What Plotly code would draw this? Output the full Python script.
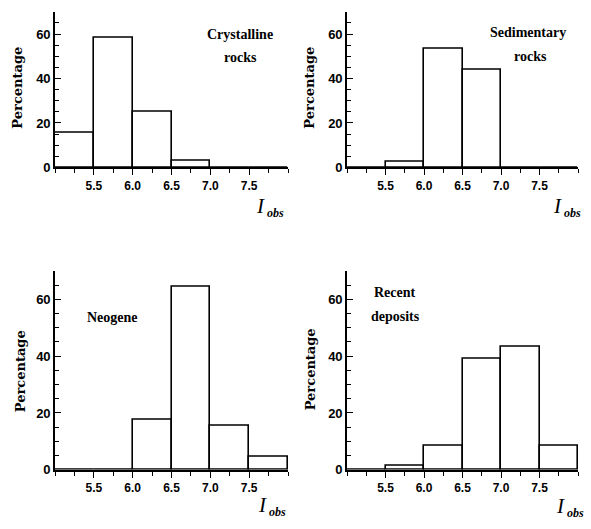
import plotly.graph_objects as go

# Data
bin_centers = [5.25, 5.75, 6.25, 6.75, 7.25, 7.75]
tick_vals = [5.5, 6.0, 6.5, 7.0, 7.5]
tick_text = ["5.5", "6.0", "6.5", "7.0", "7.5"]
y_ticks = [0, 20, 40, 60]

crystalline = [15.5, 58.2, 25.0, 3.2, 0.0, 0.0]
sedimentary = [0.0, 2.7, 53.2, 43.7, 0.0, 0.0]
neogene = [0.0, 0.0, 17.4, 64.5, 15.3, 4.4]
recent = [0.0, 1.5, 8.5, 39.1, 43.1, 8.5]

panels = [
    (crystalline, ["Crystalline", "rocks"]),
    (sedimentary, ["Sedimentary", "rocks"]),
    (neogene, ["Neogene"]),
    (recent, ["Recent", "deposits"]),
]

W, H = 591, 529
def px_x(p): return p / W
def px_y(p): return 1 - p / H

x_domains = [(55, 288), (347, 578), (55, 288), (347, 578)]
y_domains = [(12, 170), (12, 170), (275, 477), (275, 477)]

fig = go.Figure()
layout = dict(
    width=W, height=H, margin=dict(l=0, r=0, t=0, b=0),
    paper_bgcolor="white", plot_bgcolor="white", showlegend=False,
    bargap=0,
)

tick_font = dict(family="Liberation Sans", size=12, color="black", weight="bold")
ytick_font = dict(family="Liberation Sans", size=13, color="black", weight="bold")

annotations = []
for i, (vals, label) in enumerate(panels):
    n = i + 1
    xa = "x" if n == 1 else f"x{n}"
    ya = "y" if n == 1 else f"y{n}"
    fig.add_trace(go.Bar(
        x=bin_centers, y=vals, width=0.5, xaxis=xa, yaxis=ya,
        marker=dict(color="white", line=dict(color="black", width=1.6)),
        hoverinfo="skip",
    ))
    xd = x_domains[i]
    yd = y_domains[i]
    layout[f"xaxis{'' if n == 1 else n}"] = dict(
        domain=[px_x(xd[0]), px_x(xd[1])], anchor=ya,
        range=[5.0, 8.0], showgrid=False, zeroline=False,
        showline=True, linecolor="black", linewidth=1.6,
        tickvals=tick_vals, ticktext=tick_text, ticks="outside", ticklen=6,
        tickwidth=1.2, tickcolor="black", tickfont=tick_font,
        minor=dict(tick0=5.0, dtick=0.25, ticks="outside", ticklen=4,
                   tickwidth=1, tickcolor="black"),
    )
    layout[f"yaxis{'' if n == 1 else n}"] = dict(
        domain=[px_y(yd[1]), px_y(yd[0])], anchor=xa,
        range=[0, 70], showgrid=False, zeroline=False,
        showline=True, linecolor="black", linewidth=1.6,
        tickvals=y_ticks, ticks="inside", ticklen=6, tickwidth=1.2,
        tickcolor="black", tickfont=ytick_font,
        minor=dict(tick0=0, dtick=5, ticks="inside", ticklen=4,
                   tickwidth=1, tickcolor="black"),
    )

lab_font = dict(family="Liberation Serif", size=14, color="black", weight="bold")
# Panel labels
label_pos = [
    [(240, 35), (240, 58)],
    [(528, 33), (530, 57)],
    [(112, 322)],
    [(395, 297), (395, 321)],
]
for (vals, label), poss in zip(panels, label_pos):
    for t, (x, y) in zip(label, poss):
        annotations.append(dict(text=t, x=px_x(x), y=px_y(y), xref="paper",
                                yref="paper", showarrow=False, font=lab_font,
                                xanchor="center", yanchor="middle"))

# y titles
for (x, y) in [(18, 89), (310, 89), (20, 377), (310, 375)]:
    annotations.append(dict(text="Percentage", x=px_x(x), y=px_y(y),
                            xref="paper", yref="paper", showarrow=False,
                            textangle=-90,
                            font=dict(family="DejaVu Serif", size=13,
                                      color="black", weight="bold"),
                            xanchor="center", yanchor="middle"))

# x titles
for (x, y) in [(270, 210), (567, 210), (272, 514), (570, 515)]:
    annotations.append(dict(
        text="<i>I</i><sub><span style='font-size:12px'><b><i> obs</i></b></span></sub>",
        x=px_x(x), y=px_y(y),
        xref="paper", yref="paper", showarrow=False,
        font=dict(family="Liberation Serif", size=21, color="black"),
        xanchor="center", yanchor="middle"))

layout["annotations"] = annotations
fig.update_layout(**layout)
fig.write_html("out.html")
